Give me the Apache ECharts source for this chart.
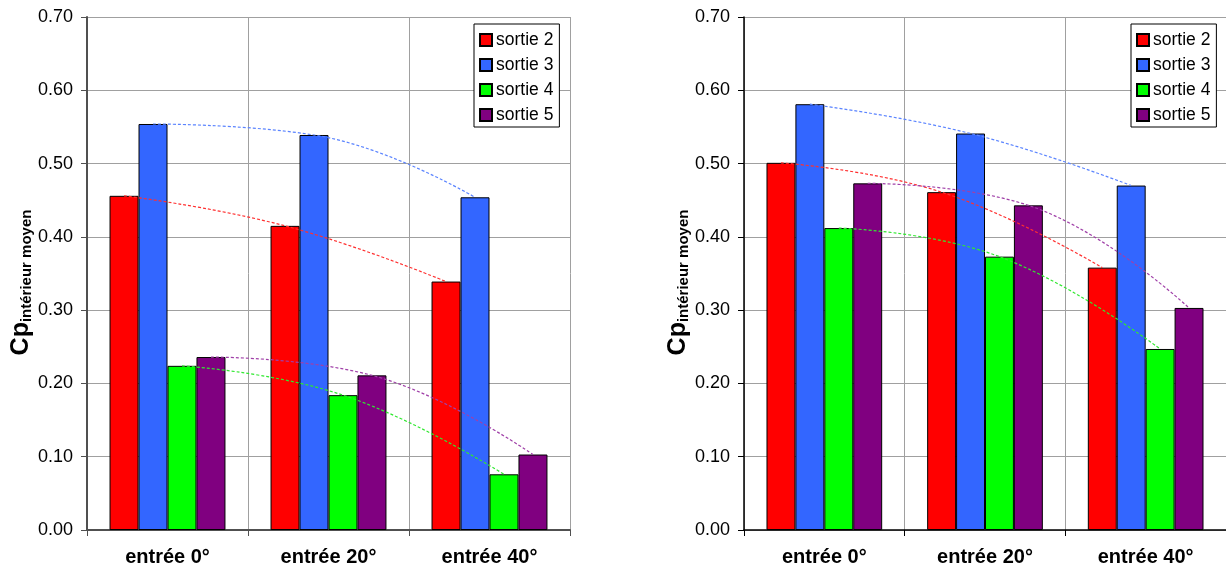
<!DOCTYPE html>
<html>
<head>
<meta charset="utf-8">
<script src="https://cdn.jsdelivr.net/npm/echarts@6/dist/echarts.min.js"></script>
<style>html,body{margin:0;padding:0;background:#fff;}#c{width:1226px;height:570px;}</style>
</head>
<body>
<div id="c"></div>
<script>
var categories = ['entrée 0°', 'entrée 20°', 'entrée 40°'];
var seriesNames = ['sortie 2', 'sortie 3', 'sortie 4', 'sortie 5'];
var colors = ['#FF0000', '#3366FF', '#00FF00', '#800080'];
var trendColors = ['#ff3030', '#5b84ff', '#30e830', '#a040a8'];
var yTicks = [0, 0.1, 0.2, 0.3, 0.4, 0.5, 0.6, 0.7];

// left chart values
var leftS2 = [0.456, 0.415, 0.339];
var leftS3 = [0.554, 0.539, 0.454];
var leftS4 = [0.224, 0.184, 0.076];
var leftS5 = [0.236, 0.211, 0.103];
// right chart values
var rightS2 = [0.501, 0.461, 0.358];
var rightS3 = [0.581, 0.541, 0.470];
var rightS4 = [0.412, 0.373, 0.247];
var rightS5 = [0.473, 0.443, 0.303];

var leftData = [leftS2, leftS3, leftS4, leftS5];
var rightData = [rightS2, rightS3, rightS4, rightS5];

var BAR_FRAC = 0.18;
var FONT = 'Liberation Sans, Arial, sans-serif';

function grid(left) {
  return { left: left, top: 17, width: 483, height: 513, containLabel: false };
}
function catAxis(gi, axisColor, axisWidth) {
  return {
    type: 'category', gridIndex: gi, data: categories,
    boundaryGap: true,
    axisLine: { lineStyle: { color: axisColor, width: axisWidth } },
    axisTick: { show: true, alignWithLabel: false, length: 6, lineStyle: { color: axisColor, width: 1 } },
    axisLabel: { fontFamily: FONT, fontSize: 20, fontWeight: 'bold', color: '#000', margin: 17 },
    splitLine: { show: true, lineStyle: { color: '#a0a0a0', width: 1 } }
  };
}
function valXAxis(gi) {
  return { type: 'value', gridIndex: gi, min: 0, max: categories.length, show: false };
}
function valYAxis(gi, axisColor, axisWidth) {
  return {
    type: 'value', gridIndex: gi, min: 0, max: 0.7, interval: 0.1,
    axisLine: { show: true, lineStyle: { color: axisColor, width: axisWidth } },
    axisTick: { show: true, length: 6, lineStyle: { color: axisColor, width: 1 } },
    axisLabel: { fontFamily: FONT, fontSize: 18, color: '#000', margin: 14,
      formatter: function (v) { return v.toFixed(2); } },
    splitLine: { show: true, lineStyle: { color: '#a0a0a0', width: 1 } },
    name: '{a|Cp}{b|intérieur moyen}',
    nameLocation: 'middle', nameRotate: 90, nameGap: 52,
    nameTextStyle: {
      fontFamily: FONT,
      padding: [0, 18, 0, 0],
      rich: {
        a: { fontFamily: FONT, fontSize: 25, fontWeight: 'bold', color: '#000', verticalAlign: 'top' },
        b: { fontFamily: FONT, fontSize: 15, fontWeight: 'bold', color: '#000', verticalAlign: 'bottom' }
      }
    }
  };
}
function legend(left) {
  return {
    orient: 'vertical', left: left, top: 24,
    data: seriesNames,
    itemWidth: 12, itemHeight: 12, itemGap: 7,
    padding: [7, 6, 3, 5],
    backgroundColor: '#fff', borderColor: '#000', borderWidth: 1, borderRadius: 0,
    icon: 'rect',
    selectedMode: false,
    textStyle: { fontFamily: FONT, fontSize: 17.5, color: '#000', lineHeight: 16.8, height: 16.8, padding: [0, 0, 0, -1] }
  };
}

var series = [];
function addChart(data, gi) {
  for (var k = 0; k < data.length; k++) {
    series.push({
      type: 'bar', name: seriesNames[k], xAxisIndex: gi * 2, yAxisIndex: gi,
      data: data[k], barWidth: (BAR_FRAC * 100) + '%', barGap: '0%',
      itemStyle: { color: colors[k], borderColor: '#000', borderWidth: 1 },
      emphasis: { disabled: true }, animation: false, z: 2
    });
  }
  for (var k2 = 0; k2 < data.length; k2++) {
    var pts = [];
    for (var i = 0; i < data[k2].length; i++) {
      pts.push([i + 0.5 + (k2 - 1.5) * BAR_FRAC, data[k2][i]]);
    }
    series.push({
      type: 'line', name: 'trend ' + seriesNames[k2] + ' ' + gi,
      xAxisIndex: gi * 2 + 1, yAxisIndex: gi,
      data: pts, smooth: 0.45, showSymbol: false, symbol: 'none',
      lineStyle: { color: trendColors[k2], width: 1.2, type: [3, 2] },
      emphasis: { disabled: true }, animation: false, z: 5, silent: true
    });
  }
}
addChart(leftData, 0);
addChart(rightData, 1);

var option = {
  backgroundColor: '#fff',
  animation: false,
  grid: [grid(87), grid(744)],
  xAxis: [catAxis(0, '#505050', 2), valXAxis(0), catAxis(1, '#000', 1.5), valXAxis(1)],
  yAxis: [valYAxis(0, '#505050', 2), valYAxis(1, '#000', 1.5)],
  legend: [legend(474), legend(1131)],
  series: series
};
var chart = echarts.init(document.getElementById('c'), null, { renderer: 'canvas' });
chart.setOption(option);
</script>
</body>
</html>
